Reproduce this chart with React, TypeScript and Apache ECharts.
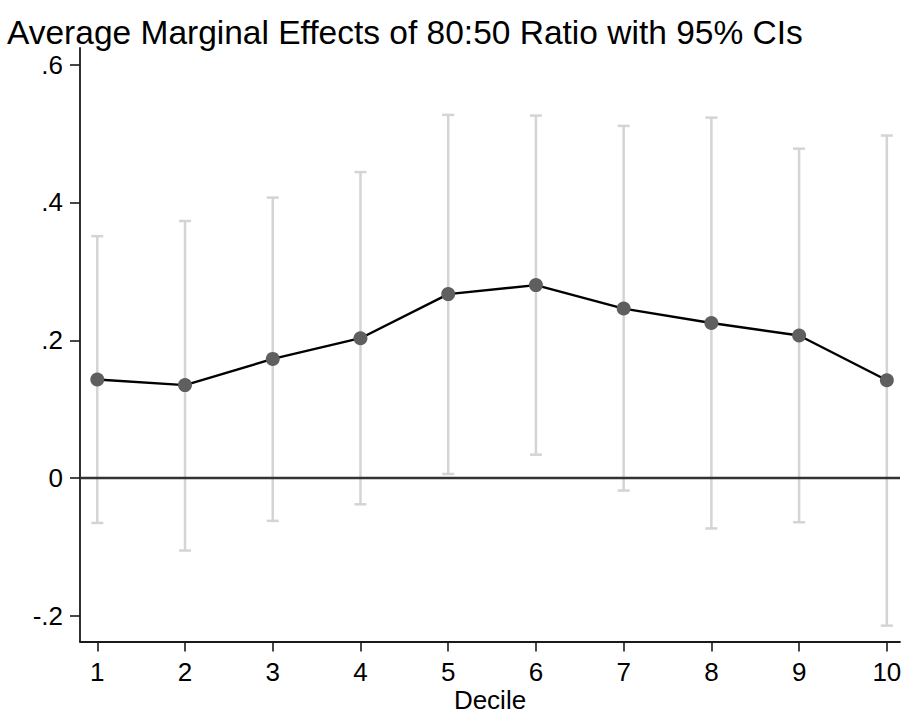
import React, { useEffect, useRef } from "react";
import * as echarts from "echarts";

const deciles = [1, 2, 3, 4, 5, 6, 7, 8, 9, 10];
const marginalEffect = [0.143, 0.135, 0.173, 0.203, 0.267, 0.28, 0.246, 0.225, 0.207, 0.142];
const ciLow = [-0.065, -0.105, -0.062, -0.038, 0.006, 0.034, -0.018, -0.073, -0.064, -0.214];
const ciHigh = [0.351, 0.373, 0.407, 0.444, 0.527, 0.526, 0.511, 0.523, 0.478, 0.497];
const yTicks = [-0.2, 0, 0.2, 0.4, 0.6];
const yTickLabels: Record<string, string> = { "-0.2": "-.2", "0": "0", "0.2": ".2", "0.4": ".4", "0.6": ".6" };
const titleText = "Average Marginal Effects of 80:50 Ratio with 95% CIs";
const xName = "Decile";

const FONT = "'Liberation Sans', Arial, Helvetica, sans-serif";

export default function App() {
  const ref = useRef<HTMLDivElement>(null);
  useEffect(() => {
    if (!ref.current) return;
    const chart = echarts.init(ref.current, null, { renderer: "svg" });
    const ciData = deciles.map((d, i) => [d, ciLow[i], ciHigh[i]]);
    const lineData = deciles.map((d, i) => [d, marginalEffect[i]]);
    chart.setOption({
      animation: false,
      backgroundColor: "#ffffff",
      title: {
        text: titleText,
        left: 2,
        top: 10,
        textStyle: { fontFamily: FONT, fontSize: 33.5, fontWeight: "normal", color: "#000" },
      },
      grid: { left: 80, right: 7, top: 48, bottom: 72.5, containLabel: false, outerBoundsMode: "none" },
      xAxis: {
        type: "value",
        min: 0.803,
        max: 10.15,
        name: xName,
        nameLocation: "middle",
        nameGap: 46,
        nameMoveOverlap: false,
        nameTextStyle: { fontFamily: FONT, fontSize: 26, lineHeight: 24, color: "#000" },
        axisLine: { show: true, onZero: false, lineStyle: { color: "#1a1a1a", width: 1.8 } },
        axisTick: { show: true, length: 10, customValues: deciles, lineStyle: { color: "#1a1a1a", width: 1.6 } },
        axisLabel: {
          customValues: deciles,
          fontFamily: FONT,
          fontSize: 26,
          color: "#000",
          margin: 17,
        },
        splitLine: { show: false },
      },
      yAxis: {
        type: "value",
        min: -0.237,
        max: 0.624,
        axisLine: { show: true, onZero: false, lineStyle: { color: "#1a1a1a", width: 1.8 } },
        axisTick: { show: true, length: 10, customValues: yTicks, lineStyle: { color: "#1a1a1a", width: 1.6 } },
        axisLabel: {
          customValues: yTicks,
          fontFamily: FONT,
          fontSize: 26,
          color: "#000",
          margin: 17,
          formatter: (v: number) => yTickLabels[String(Math.round(v * 10) / 10)] ?? String(v),
        },
        splitLine: { show: false },
      },
      series: [
        {
          type: "line",
          data: [],
          z: 1,
          markLine: {
            silent: true,
            symbol: "none",
            label: { show: false },
            lineStyle: { color: "#333", width: 2.4, type: "solid" },
            data: [{ yAxis: 0 }],
          },
        },
        {
          type: "custom",
          z: 2,
          data: ciData,
          renderItem: (params: any, api: any) => {
            const x = api.value(0);
            const lo = api.coord([x, api.value(1)]);
            const hi = api.coord([x, api.value(2)]);
            const half = 6;
            const style = { stroke: "#d4d4d4", lineWidth: 2.5 };
            return {
              type: "group",
              children: [
                { type: "line", shape: { x1: lo[0], y1: lo[1], x2: hi[0], y2: hi[1] }, style },
                { type: "line", shape: { x1: lo[0] - half, y1: lo[1], x2: lo[0] + half, y2: lo[1] }, style },
                { type: "line", shape: { x1: hi[0] - half, y1: hi[1], x2: hi[0] + half, y2: hi[1] }, style },
              ],
            };
          },
        },
        {
          type: "line",
          z: 3,
          data: lineData,
          symbol: "circle",
          symbolSize: 14,
          itemStyle: { color: "#5f5f5f", borderWidth: 0 },
          lineStyle: { color: "#000", width: 2.4 },
        },
      ],
    });
    return () => chart.dispose();
  }, []);
  return <div ref={ref} style={{ position: "fixed", left: 0, top: 0, width: 907, height: 714 }} />;
}
